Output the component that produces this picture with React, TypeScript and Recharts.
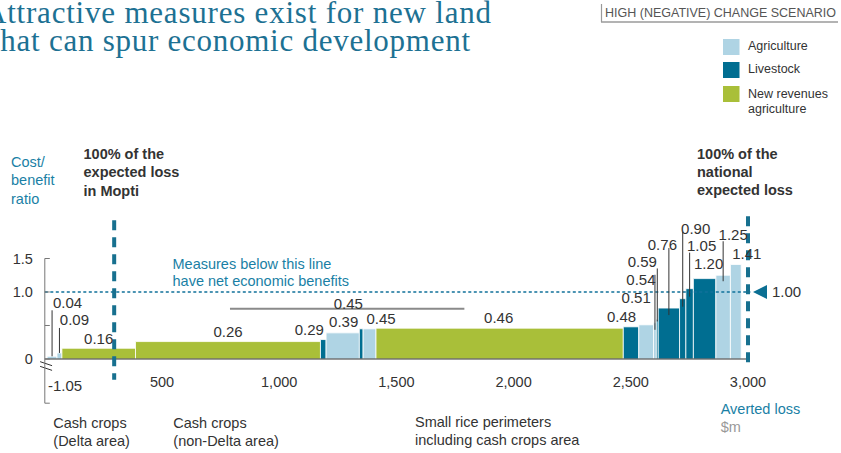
import React from "react";
import {
  ComposedChart,
  XAxis,
  YAxis,
  Scatter,
  ReferenceArea,
  ReferenceLine,
  ReferenceDot,
} from "recharts";

// measures, left to right along the cost curve
const measureTypes = [
  "agri", "agri", "newrev", "newrev", "live", "agri", "live", "agri", "newrev",
  "live", "agri", "agri", "live", "live", "live", "live", "live", "agri", "agri",
];
const measureWidths = [42, 21, 314, 789, 24, 142, 16, 55, 1055, 66, 63, 12, 8, 91, 27, 32, 96, 62, 46];
const measureRatios = [0.04, 0.09, 0.16, 0.26, 0.29, 0.39, 0.45, 0.45, 0.46, 0.48, 0.51, 0.54, 0.59, 0.76, 0.9, 1.05, 1.2, 1.25, 1.41];

// first measure sits below the axis break
const brokenMeasureWidth = 10;
const brokenMeasureRatio = -1.05;

const xTicks = [500, 1000, 1500, 2000, 2500, 3000];
const xTickLabels = ["500", "1,000", "1,500", "2,000", "2,500", "3,000"];
const yTicks = [-0.66, 0, 0.5, 1, 1.5];
const yTickLabels = ["", "0", "", "1.0", "1.5"];

const moptiLoss = 296;
const nationalLoss = 3000;

const COLORS: Record<string, string> = {
  agri: "#afd4e4",
  live: "#006e91",
  newrev: "#a9bf39",
};
const TEAL = "#1a7fa5";
const DARK = "#333333";
const FONT = "'Liberation Sans', Arial, sans-serif";

// label placement relative to bar top centre: [dx, dy, leaderTop, leaderBottom]
const labelLayout: (number | null)[][] = [
  [15.5, -54, -46, 0],
  [15, -33, -25, 0],
  [0, -10, null, null],
  [0, -10.5, null, null],
  [-14, -10.5, null, null],
  [1, -11, null, null],
  [-13, -25, null, null],
  [11.5, -10, null, null],
  [-1, -10.5, null, null],
  [-9.5, -10, null, null],
  [-10, -27, null, null],
  [-14, -43, -48, 7],
  [-15, -58, -51, 2],
  [-6.5, -64, -60, 7],
  [13, -70, -67, 8],
  [12, -43, -36, 8],
  [4, -15, null, null],
  [10, -41, -34, 6],
  [11, -11, null, null],
];

let cursor = brokenMeasureWidth;
const rows = measureWidths.map((w, i) => {
  const x0 = cursor;
  cursor += w;
  return { i, x0, x1: cursor, mid: x0 + w / 2, ratio: measureRatios[i], type: measureTypes[i] };
});

const ValueLabel = (props: any) => {
  const { cx, cy, payload } = props;
  const [dx, dy, lt, lb] = labelLayout[payload.i];
  return (
    <g>
      {lt !== null && (
        <line x1={cx} x2={cx} y1={cy + (lt as number)} y2={cy + (lb as number)} stroke={DARK} strokeWidth={1} />
      )}
      <text
        x={cx + (dx as number)}
        y={cy + (dy as number)}
        textAnchor="middle"
        dominantBaseline="central"
        fontSize={15}
        fontFamily={FONT}
        fill={DARK}
      >
        {payload.ratio.toFixed(2)}
      </text>
    </g>
  );
};

const XTick = (p: any) => {
  const idx = xTicks.indexOf(p.payload.value);
  return (
    <text x={p.x} y={p.y - 21} textAnchor="middle" dominantBaseline="central" fontSize={14.5} fontFamily={FONT} fill={DARK}>
      {xTickLabels[idx]}
    </text>
  );
};

const YTick = (p: any) => {
  const idx = yTicks.indexOf(p.payload.value);
  const label = yTickLabels[idx];
  return (
    <g>
      <line x1={p.x} x2={p.x + 5} y1={p.y} y2={p.y} stroke="#777" strokeWidth={1} />
      {label && (
        <text x={p.x - 12} y={p.y} textAnchor="end" dominantBaseline="central" fontSize={14.5} fontFamily={FONT} fill={DARK}>
          {label}
        </text>
      )}
    </g>
  );
};

const Marker = (p: any) => (
  <g>
    <polygon points={`${p.cx + 5},${p.cy} ${p.cx + 19},${p.cy - 7} ${p.cx + 19},${p.cy + 7}`} fill="#0b6f93" />
    <text x={p.cx + 24} y={p.cy} dominantBaseline="central" fontSize={15} fontFamily={FONT} fill={DARK}>
      1.00
    </text>
  </g>
);

const T = (props: any) => (
  <text fontFamily={FONT} fontSize={14.5} dominantBaseline="central" fill={DARK} {...props} />
);

export default function App() {
  return (
    <div style={{ position: "absolute", left: 0, top: 0, width: 841, height: 453, background: "#fff" }}>
      <ComposedChart
        width={841}
        height={453}
        data={rows}
        margin={{ top: 258.5, right: 93, bottom: 19.8, left: 4.8 }}
      >
        <XAxis
          dataKey="mid"
          type="number"
          domain={[0, 3000]}
          ticks={xTicks}
          axisLine={false}
          tickLine={false}
          tickSize={0}
          tickMargin={0}
          height={30}
          tick={<XTick />}
        />
        <YAxis
          type="number"
          domain={[-0.66, 1.5]}
          ticks={yTicks}
          width={40}
          axisLine={{ stroke: "#777", strokeWidth: 1 }}
          tickLine={false}
          tickSize={0}
          tickMargin={0}
          tick={<YTick />}
        />
        {rows.map((r) => (
          <ReferenceArea
            key={r.i}
            x1={r.x0}
            x2={r.x1}
            y1={0}
            y2={r.ratio}
            fill={COLORS[r.type]}
            fillOpacity={1}
            stroke="#fff"
            strokeWidth={0.8}
          />
        ))}
        <ReferenceLine y={0} stroke={DARK} strokeWidth={1.2} />
        <ReferenceLine
          segment={[{ x: -20, y: -0.07 }, { x: 31, y: -0.14 }]}
          stroke="#fff"
          strokeWidth={4}
          ifOverflow="visible"
        />
        <ReferenceLine
          segment={[{ x: -20, y: -0.04 }, { x: 31, y: -0.1 }]}
          stroke={DARK}
          strokeWidth={1}
          ifOverflow="visible"
        />
        <ReferenceLine
          segment={[{ x: -20, y: -0.11 }, { x: 31, y: -0.17 }]}
          stroke={DARK}
          strokeWidth={1}
          ifOverflow="visible"
        />
        <ReferenceLine
          segment={[{ x: 0, y: 1 }, { x: 3010, y: 1 }]}
          stroke="#11719a"
          strokeWidth={1.6}
          strokeDasharray="3 2.5"
          ifOverflow="visible"
        />
        <ReferenceLine
          segment={[{ x: 790, y: 0.75 }, { x: 1790, y: 0.75 }]}
          stroke="#8a8a8a"
          strokeWidth={2}
          ifOverflow="visible"
        />
        <ReferenceLine
          segment={[{ x: moptiLoss, y: 2.07 }, { x: moptiLoss, y: -0.31 }]}
          stroke="#17708f"
          strokeWidth={4}
          strokeDasharray="10 7"
          ifOverflow="visible"
        />
        <ReferenceLine
          segment={[{ x: nationalLoss, y: 2.13 }, { x: nationalLoss, y: -0.12 }]}
          stroke="#17708f"
          strokeWidth={4}
          strokeDasharray="10 7"
          ifOverflow="visible"
        />
        <ReferenceDot x={nationalLoss} y={1} r={0} ifOverflow="visible" shape={<Marker />} />
        <Scatter dataKey="ratio" isAnimationActive={false} shape={<ValueLabel />} />
      </ComposedChart>

      <svg
        width={841}
        height={453}
        style={{ position: "absolute", left: 0, top: 0, pointerEvents: "none" }}
      >
        <g fontFamily="'Liberation Serif', Georgia, serif" fontSize={31} fill="#1d7193">
          <text x={-16} y={23} textLength={507} lengthAdjust="spacing">
            Attractive measures exist for new land
          </text>
          <text x={-9} y={51} textLength={479} lengthAdjust="spacing">
            that can spur economic development
          </text>
        </g>

        <line x1={601.5} x2={601.5} y1={4} y2={22} stroke="#9a9a9a" strokeWidth={1.2} />
        <line x1={601} x2={838} y1={22} y2={22} stroke="#9a9a9a" strokeWidth={1.5} />
        <T x={605} y={12.5} fontSize={12.5} fill="#555">
          HIGH (NEGATIVE) CHANGE SCENARIO
        </T>

        <rect x={723} y={39} width={16.5} height={16} fill={COLORS.agri} />
        <rect x={723} y={62} width={16.5} height={16} fill={COLORS.live} />
        <rect x={723} y={86} width={16.5} height={16} fill={COLORS.newrev} />
        <T x={748} y={46} fontSize={12.5}>Agriculture</T>
        <T x={748} y={69} fontSize={12.5}>Livestock</T>
        <T x={748} y={94} fontSize={12.5}>New revenues</T>
        <T x={748} y={108.5} fontSize={12.5}>agriculture</T>

        <T x={11} y={161.5} fill={TEAL}>Cost/</T>
        <T x={11} y={180} fill={TEAL}>benefit</T>
        <T x={11} y={198.5} fill={TEAL}>ratio</T>

        <T x={83.5} y={154} fontWeight="bold">100% of the</T>
        <T x={83.5} y={172} fontWeight="bold">expected loss</T>
        <T x={83.5} y={190.5} fontWeight="bold">in Mopti</T>

        <T x={697} y={154} fontWeight="bold">100% of the</T>
        <T x={697} y={172} fontWeight="bold">national</T>
        <T x={697} y={190} fontWeight="bold">expected loss</T>

        <T x={172.5} y={263.5} fill={TEAL}>Measures below this line</T>
        <T x={172.5} y={281} fill={TEAL}>have net economic benefits</T>

        <T x={48} y={385.5} fontSize={15}>{brokenMeasureRatio.toFixed(2)}</T>

        <T x={53.3} y={422.5}>Cash crops</T>
        <T x={53.3} y={440.5}>(Delta area)</T>
        <T x={173.3} y={422.5}>Cash crops</T>
        <T x={173.3} y={440.5}>(non-Delta area)</T>
        <T x={415} y={421.7}>Small rice perimeters</T>
        <T x={415} y={439.5}>including cash crops area</T>

        <T x={720.7} y={409} fill={TEAL}>Averted loss</T>
        <T x={720.7} y={427} fill="#999">$m</T>
      </svg>
    </div>
  );
}
